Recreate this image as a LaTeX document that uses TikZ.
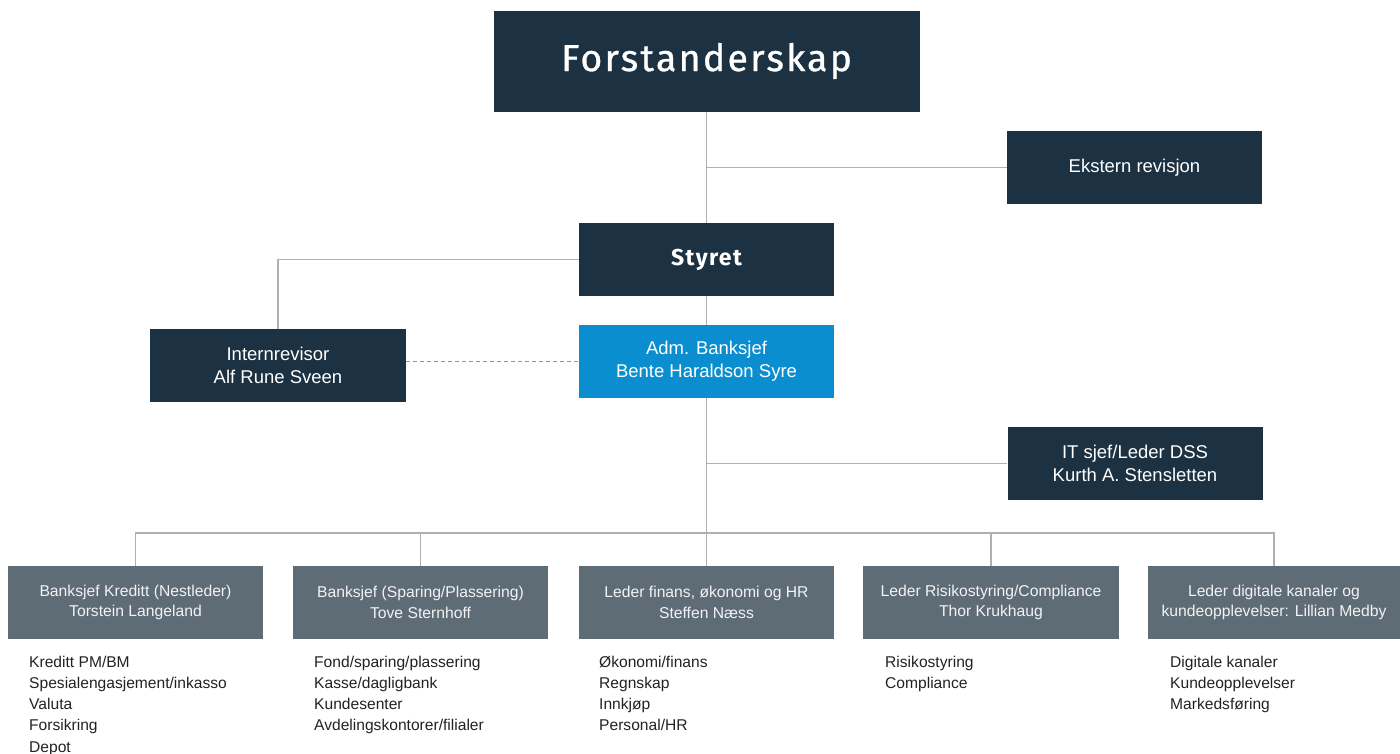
\documentclass[tikz,border=0pt]{standalone}
\usepackage{fontspec}
\setmainfont{Liberation Sans}
\newfontfamily\firafont[LetterSpace=6,FakeBold=0.8]{Fira Sans}
\newfontfamily\firaboldfont[LetterSpace=6]{Fira Sans}
\definecolor{navy}{HTML}{1C3141}
\definecolor{azure}{HTML}{0A8ECF}
\definecolor{slate}{HTML}{5E6C76}
\definecolor{conn}{HTML}{B0B0B0}
\definecolor{listc}{HTML}{222222}
\begin{document}
\begin{tikzpicture}[x=1pt,y=-1pt,
  box/.style={draw=none, inner sep=0pt, align=center, text=white,
    minimum width=255pt, minimum height=73pt},
  navybox/.style={box, fill=navy, font=\fontsize{18.5}{23}\selectfont},
  bluebox/.style={box, fill=azure, font=\fontsize{18.5}{23}\selectfont},
  slatebox/.style={box, fill=slate, text=white!92!slate, font=\fontsize{15.7}{20.5}\selectfont},
  conline/.style={draw=conn, line width=1.7pt},
  dashline/.style={draw=conn!85!black, line width=1.4pt, dash pattern=on 4pt off 3pt},
  listtxt/.style={anchor=north west, align=left, text=listc, inner sep=0pt,
    font=\fontsize{15.6}{21.3}\selectfont}
]
\useasboundingbox (0,0) rectangle (1400,753);

% boxes
\node[box, fill=navy, minimum width=426pt, minimum height=101pt,
  font=\firafont\fontsize{37.5}{42}\selectfont, text depth=9pt] (forst) at (706.5,61.5) {Forstanderskap};
\node[navybox] (ekst) at (1134.5,167.5) {Ekstern revisjon};
\node[box, fill=navy, font=\firaboldfont\bfseries\fontsize{23}{28}\selectfont] (styret) at (706.5,259.5) {Styret};
\node[navybox, minimum width=256pt] (intern) at (278,365.5) {Internrevisor\\Alf Rune Sveen};
\node[bluebox] (adm) at (706.5,361.5) {Adm. Banksjef\\Bente Haraldson Syre};
\node[navybox] (it) at (1135,463.5) {IT sjef/Leder DSS\\Kurth A. Stensletten};

\node[slatebox] (b1) at (135.5,602.5) {Banksjef Kreditt (Nestleder)\\Torstein Langeland};
\node[slatebox] (b2) at (420.5,602.5) {Banksjef (Sparing/Plassering)\\Tove Sternhoff};
\node[slatebox] (b3) at (706.5,602.5) {Leder finans, økonomi og HR\\Steffen Næss};
\node[slatebox, minimum width=256pt] (b4) at (991,602.5) {Leder Risikostyring/Compliance\\Thor Krukhaug};
\node[slatebox, minimum width=252pt] (b5) at (1274,602.5) {Leder digitale kanaler og\\kundeopplevelser: Lillian Medby};

% lists
\node[listtxt] (l1) at (29,655.5) {Kreditt PM/BM\\Spesialengasjement/inkasso\\Valuta\\Forsikring\\Depot};
\node[listtxt] (l2) at (314,655.5) {Fond/sparing/plassering\\Kasse/dagligbank\\Kundesenter\\Avdelingskontorer/filialer};
\node[listtxt] (l3) at (599,655.5) {Økonomi/finans\\Regnskap\\Innkjøp\\Personal/HR};
\node[listtxt] (l4) at (885,655.5) {Risikostyring\\Compliance};
\node[listtxt] (l5) at (1170,655.5) {Digitale kanaler\\Kundeopplevelser\\Markedsføring};

% connectors
\coordinate (bus) at (706.5,533);
\draw[conline] (forst.south) -- (styret.north);
\draw[conline] (ekst.west) -- (ekst.west -| forst.south);
\draw[conline] (styret.south) -- (adm.north);
\draw[conline] (styret.west) -| (intern.north);
\draw[dashline] (intern.east |- adm.west) -- (adm.west);
\draw[conline] (adm.south) -- (adm.south |- bus);
\draw[conline] (it.west) -- (it.west -| adm.south);
\draw[conline] (b1.north) -- (b1.north |- bus) -- (b5.north |- bus) -- (b5.north);
\draw[conline] (b2.north) -- (b2.north |- bus);
\draw[conline] (b3.north) -- (b3.north |- bus);
\draw[conline] (b4.north) -- (b4.north |- bus);
\end{tikzpicture}
\end{document}
